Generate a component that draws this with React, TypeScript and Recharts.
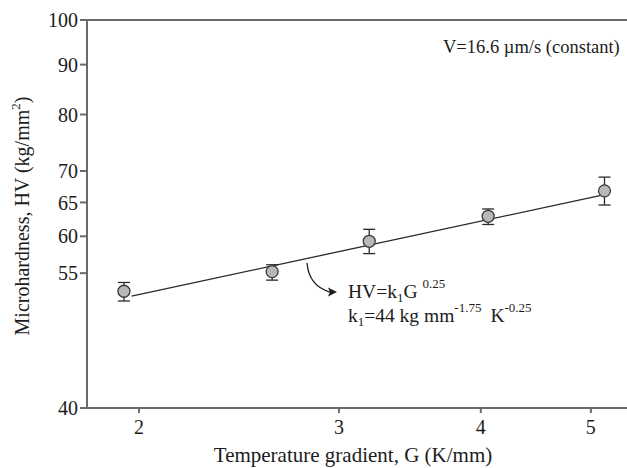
import { ScatterChart, Scatter, XAxis, YAxis, ErrorBar, ReferenceLine } from 'recharts';

// temperature gradient G (K/mm) and microhardness HV (kg/mm2)
const gradient = [1.94, 2.62, 3.19, 4.06, 5.14];
const hardness = [52.7, 55.2, 59.3, 62.9, 66.8];
const errLow = [1.2, 1.1, 1.7, 1.2, 2.2];
const errHigh = [1.1, 0.9, 1.7, 1.1, 2.2];

// fitted power law, end points
const fitG = [1.97, 5.14];
const fitHV = [52.1, 66.2];

const xTicks = [2, 3, 4, 5];
const yTicks = [40, 55, 60, 65, 70, 80, 90, 100];

const points = gradient.map((g, i) => ({ g, hv: hardness[i], err: [errLow[i], errHigh[i]] }));
const fit = fitG.map((g, i) => ({ g, hv: fitHV[i] }));

const FONT = '"Liberation Serif", "Times New Roman", serif';
const AXIS = '#6a6a6a';
const INK = '#1c1c1c';

const Dot = (props: any) => (
  <circle cx={props.cx} cy={props.cy} r={6} fill="#b8b8b8" stroke="#3a3a3a" strokeWidth={1.3} />
);

const YLabel = () => (
  <text
    x={29}
    y={216}
    transform="rotate(-90, 29, 216)"
    textAnchor="middle"
    fontFamily={FONT}
    fontSize={20}
    fill={INK}
  >
    Microhardness, HV (kg/mm<tspan dy={-9} fontSize={13}>2</tspan>
    <tspan dy={9}>)</tspan>
  </text>
);

const XLabel = () => (
  <text x={353} y={462} textAnchor="middle" fontFamily={FONT} fontSize={21} fill={INK}>
    Temperature gradient, G (K/mm)
  </text>
);

export default function App() {
  return (
    <div style={{ position: 'absolute', left: 0, top: 0, width: 627, height: 468, background: '#fff' }}>
      <ScatterChart width={627} height={468} margin={{ top: 20, right: 0, bottom: 0, left: 0 }}>
        <XAxis
          dataKey="g"
          type="number"
          scale="log"
          domain={[1.8, 5.38]}
          allowDataOverflow
          ticks={xTicks}
          height={60}
          tickSize={5}
          tickMargin={7}
          stroke={AXIS}
          strokeWidth={2}
          tick={{ fill: INK, fontFamily: FONT, fontSize: 20 }}
          label={<XLabel />}
        />
        <YAxis
          dataKey="hv"
          type="number"
          scale="log"
          domain={[40, 100]}
          allowDataOverflow
          ticks={yTicks}
          interval={0}
          width={87}
          tickSize={7}
          tickMargin={2}
          stroke={AXIS}
          strokeWidth={2}
          tick={{ fill: INK, fontFamily: FONT, fontSize: 20 }}
          label={<YLabel />}
        />
        <ReferenceLine y={100} stroke={AXIS} strokeWidth={2} />
        <Scatter
          data={fit}
          line={{ stroke: '#2a2a2a', strokeWidth: 1.3 }}
          shape={() => <g />}
          isAnimationActive={false}
        />
        <Scatter data={points} shape={<Dot />} isAnimationActive={false}>
          <ErrorBar dataKey="err" direction="y" width={6} stroke="#2a2a2a" strokeWidth={1.3} />
        </Scatter>
      </ScatterChart>
      <svg
        width={627}
        height={468}
        style={{ position: 'absolute', left: 0, top: 0, pointerEvents: 'none' }}
        fontFamily={FONT}
        fill={INK}
      >
        <text x={443} y={53} fontSize={18.5}>V=16.6 µm/s (constant)</text>
        <path d="M307,263 Q309,286 330,292" fill="none" stroke={INK} strokeWidth={1.3} />
        <polygon points="337,292 328,287.5 330,292 328,296.5" fill={INK} />
        <text x={348} y={298} fontSize={19.5}>
          HV=k<tspan fontSize={13} dy={4}>1</tspan>
          <tspan dy={-4}>G </tspan>
          <tspan fontSize={13} dy={-10}>0.25</tspan>
        </text>
        <text x={348} y={322} fontSize={19.5}>
          k<tspan fontSize={13} dy={4}>1</tspan>
          <tspan dy={-4}>=44 kg mm</tspan>
          <tspan fontSize={13} dy={-10}>-1.75</tspan>
          <tspan dy={10} dx={9}>K</tspan>
          <tspan fontSize={13} dy={-10}>-0.25</tspan>
        </text>
      </svg>
    </div>
  );
}
